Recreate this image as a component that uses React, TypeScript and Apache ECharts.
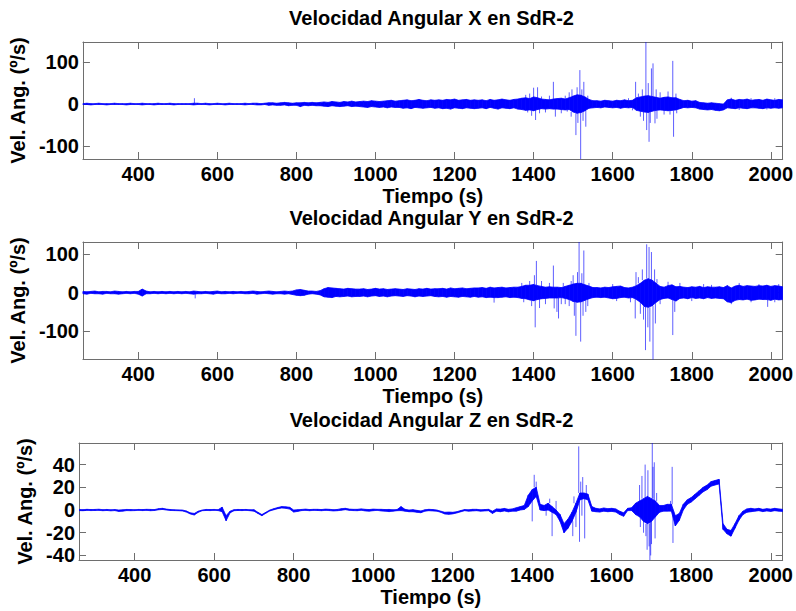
import React, { useEffect, useRef } from "react";
import * as echarts from "echarts";

// Sampling grid: noise envelope (upper / lower reading) per 10 s window
const T_START = 260;
const T_STEP = 10;
const T_MIN = 260;
const T_MAX = 2030;

const xTicks = [400, 600, 800, 1000, 1200, 1400, 1600, 1800, 2000];
const yTicksX = [-100, 0, 100];
const yTicksY = [-100, 0, 100];
const yTicksZ = [-40, -20, 0, 20, 40];

const titles = [
  "Velocidad Angular X en SdR-2",
  "Velocidad Angular Y en SdR-2",
  "Velocidad Angular Z en SdR-2",
];
const yName = "Vel. Ang. (º/s)";
const xName = "Tiempo (s)";

// ---- Angular velocity X (º/s): noise envelope ----
const xHi = [
  1, 2, 1, 1, 2, 1, 1, 1, 2, 1,
  1, 1, 2, 1, 1, 2, 1, 1, 1, 2,
  1, 1, 2, 1, 1, 1, 1, 1, 2, 2,
  1, 2, 1, 1, 2, 1, 1, 2, 1, 1,
  1, 2, 1, 2, 2, 1, 2, 3, 3, 2,
  3, 4, 3, 2, 3, 3, 4, 3, 4, 3,
  4, 5, 4, 6, 5, 4, 6, 5, 7, 5,
  6, 7, 6, 8, 7, 6, 7, 8, 9, 7,
  8, 9, 10, 8, 9, 11, 9, 8, 10, 9,
  10, 9, 11, 10, 12, 9, 10, 11, 9, 10,
  9, 10, 8, 11, 9, 10, 12, 10, 9, 11,
  12, 14, 15, 13, 17, 15, 12, 11, 10, 12,
  13, 14, 12, 15, 19, 22, 21, 17, 11, 8,
  8, 7, 9, 8, 7, 9, 8, 10, 8, 9,
  15, 17, 19, 20, 18, 16, 14, 16, 17, 15,
  15, 11, 8, 9, 7, 8, 4, 3, 2, 3,
  2, 1, 0, 10, 12, 9, 11, 10, 12, 9,
  10, 11, 9, 12, 10, 9, 11, 10,
];
const xLo = [
  -1, -1, -2, -1, -1, -1, -2, -1, -1, -1,
  -1, -2, -1, -1, -1, -2, -1, -1, -2, -1,
  -1, -1, -1, -2, -1, -1, -1, -1, -2, -1,
  -1, -1, -2, -1, -1, -1, -2, -1, -1, -1,
  -1, -2, -1, -1, -2, -2, -1, -3, -2, -3,
  -3, -2, -4, -3, -3, -6, -3, -4, -3, -4,
  -4, -5, -6, -4, -5, -6, -5, -4, -6, -5,
  -6, -7, -8, -6, -7, -8, -7, -9, -7, -8,
  -8, -10, -9, -11, -8, -9, -10, -9, -8, -10,
  -9, -11, -10, -12, -9, -10, -11, -9, -10, -11,
  -10, -9, -11, -8, -10, -12, -9, -10, -11, -9,
  -12, -13, -15, -14, -16, -13, -11, -12, -11, -12,
  -12, -13, -14, -13, -19, -22, -20, -16, -10, -9,
  -8, -9, -7, -8, -9, -8, -10, -8, -9, -8,
  -15, -17, -19, -20, -17, -15, -14, -15, -16, -15,
  -14, -11, -8, -9, -8, -9, -12, -13, -14, -13,
  -15, -16, -14, -9, -10, -11, -9, -10, -11, -9,
  -9, -10, -11, -9, -10, -9, -10, -9,
];
// isolated peaks: time (s) and value (º/s)
const xSpikeT = [
  542, 1380, 1385, 1390, 1395, 1400, 1405, 1410, 1415, 1420, 1430, 1440, 1450, 1455,
  1470, 1480, 1485, 1490, 1495, 1497, 1507, 1510, 1512, 1517, 1519, 1522, 1525, 1527, 1532, 1537,
  1640, 1650, 1658, 1665, 1670, 1675, 1678, 1684, 1686, 1690, 1692, 1695, 1698, 1702, 1707,
  1710, 1712, 1720, 1730, 1740, 1745, 1752, 1754, 1760, 1762, 1900, 1920, 1950, 1990, 2010,
];
const xSpikeV = [
  14, 22, -20, 25, -28, 39, -38, 40, -22, 18, -20, 20, 53, -30,
  -22, 20, -18, 28, -30, 35, -74, 40, -45, 81, -131, 35, -40, 53, -54, 20,
  14, -15, 53, 25, -30, 35, -40, 148, -62, 50, -90, -45, 85, 97, -46,
  35, -35, 28, -25, 30, -25, 103, -78, 25, -22, 15, -14, 14, -13, 14,
];

// ---- Angular velocity Y (º/s): noise envelope ----
const yHi = [
  3, 2, 3, 4, 2, 3, 3, 2, 4, 3,
  2, 3, 2, 3, 3, 9, 4, 2, 3, 2,
  3, 2, 3, 2, 3, 2, 3, 2, 4, 3,
  2, 3, 2, 3, 4, 2, 3, 2, 3, 2,
  3, 2, 3, 4, 3, 2, 3, 4, 3, 2,
  3, 4, 3, 4, 7, 8, 6, 4, 4, 3,
  5, 10, 13, 12, 11, 10, 9, 11, 10, 9,
  9, 10, 8, 9, 11, 9, 10, 8, 9, 10,
  9, 8, 10, 9, 8, 10, 9, 11, 9, 10,
  10, 11, 9, 12, 10, 11, 12, 10, 11, 12,
  12, 13, 11, 14, 12, 13, 14, 12, 13, 14,
  14, 16, 19, 19, 21, 18, 16, 14, 15, 14,
  14, 13, 16, 19, 22, 24, 24, 20, 17, 13,
  13, 12, 14, 13, 15, 16, 17, 13, 12, 14,
  18, 24, 32, 36, 32, 24, 16, 14, 18, 20,
  15, 16, 14, 13, 15, 14, 16, 13, 15, 14,
  14, 15, 13, 18, 12, 17, 19, 16, 18, 17,
  16, 18, 17, 19, 16, 18, 17, 15,
];
const yLo = [
  -3, -4, -2, -3, -3, -4, -2, -3, -3, -4,
  -3, -2, -3, -2, -4, -9, -3, -3, -2, -3,
  -2, -3, -2, -3, -2, -3, -2, -3, -4, -3,
  -3, -2, -3, -4, -2, -3, -3, -2, -3, -2,
  -2, -3, -3, -2, -4, -3, -2, -3, -4, -3,
  -3, -4, -3, -5, -7, -8, -7, -4, -3, -4,
  -6, -11, -12, -13, -10, -11, -10, -9, -11, -10,
  -10, -9, -11, -9, -8, -10, -9, -11, -9, -8,
  -9, -10, -8, -9, -11, -9, -10, -9, -8, -10,
  -11, -10, -12, -10, -11, -12, -10, -11, -12, -10,
  -12, -11, -13, -12, -13, -13, -12, -11, -13, -12,
  -13, -15, -16, -19, -21, -18, -16, -15, -14, -14,
  -14, -13, -15, -18, -23, -25, -24, -20, -16, -13,
  -12, -13, -12, -14, -16, -15, -13, -12, -14, -13,
  -18, -25, -36, -38, -34, -25, -18, -15, -14, -18,
  -22, -15, -14, -16, -13, -15, -14, -16, -13, -15,
  -14, -15, -16, -24, -26, -20, -18, -19, -17, -20,
  -19, -17, -18, -18, -20, -17, -19, -18,
];
const ySpikeT = [
  412, 544, 1300, 1370, 1375, 1390, 1395, 1402, 1404, 1407, 1415, 1420, 1430, 1440,
  1450, 1452, 1459, 1463, 1470, 1475, 1480, 1490, 1495, 1500, 1503, 1507, 1511, 1515, 1519,
  1522, 1525, 1527, 1532, 1537, 1540, 1600, 1610, 1645, 1657, 1659, 1665, 1670, 1675, 1678,
  1683, 1686, 1689, 1692, 1694, 1698, 1702, 1706, 1708, 1712, 1720, 1740, 1752, 1757,
  1770, 1800, 1830, 1850, 1900, 1920, 1950, 1970, 1992, 2010, 2020,
];
const ySpikeV = [
  10, -15, -26, 25, -25, 30, -35, 45, -90, 82, -40, 30, -30, 25,
  70, -41, -50, -67, -30, 25, -30, -35, 30, 45, -60, -112, 53, 131, -127,
  50, -60, 109, -50, -35, 25, 22, -22, -25, -67, 53, 40, -55, 60, -70,
  -149, 125, -90, 118, -127, 105, -176, 60, -80, 35, -30, 28, -110, -50,
  25, -22, 22, 20, -30, 25, -25, 22, -37, -25, 22,
];

// ---- Angular velocity Z (º/s): noise envelope ----
const zHi = [
  0.5, 0.3, 0.6, 0.4, 0.5, 0.7, 0.3, 0.5, 0.2, 0.4,
  0, 0.2, 0.5, 0.4, 0.3, 0.5, 0.4, 0.6, 0.5, 0.4,
  1.2, 1.5, 0.8, 0.4, 0.2, 0.1, 0, -0.8, -2.5, -3,
  -1, 0, 0.5, 0.4, 0.5, 0.3, 2.5, -5, -1, 0.3,
  0.5, 0.4, 0.5, 0.2, 0.3, -2, -4, -2, 0, 1.2,
  2.2, 3, 2.8, 2.4, 0, 0.3, 0.5, 0.8, 0.4, 0.6,
  0.6, 0.4, 0.8, 0.6, 0.3, 0.5, 1.2, 1.5, 0.8, 0.6,
  0.6, 1, 0.6, 0.4, 0.8, 0.6, 0.6, 0.4, 0.5, 0.2,
  0.4, 3, 0.6, 0, 0.3, -0.3, -0.8, 0.2, 0.6, 0.4,
  0, -1, -2, -1.8, -2, -1.5, -0.5, 0.4, 0.2, 0.6,
  0.6, 0.2, 0.4, 0.6, -1, 1, 0.8, 1.4, 0.6, 1,
  2, 3, 4, 13, 18, 20, 5, 4, 6, 3,
  0, -4, -12, -8, -2, 6, 15, 15, 14, 3,
  1.5, 1, 1.8, 1.2, 1.5, 1, -1, -2.5, 1.5, 2,
  6, 8, 10, 12, 10, 8, 4, 4, 5, 5,
  -5, -3, 5, 9, 11, 14, 17, 20, 22, 25,
  26, 27, -12, -17, -18, -12, -5, -1, 1, 1.5,
  1, 1.5, 0.6, 1.2, 0.8, 1.5, 1, 0.6,
];
const zLo = [
  -0.5, -0.6, -0.3, -0.5, -0.4, -0.3, -0.6, -0.4, -0.7, -0.5,
  -1.2, -1, -0.5, -0.6, -0.5, -0.3, -0.5, -0.3, -0.6, -0.4,
  0.2, 0.5, 0, -0.4, -0.5, -0.6, -0.8, -1.8, -3.5, -4.4,
  -2, -0.6, -0.4, -0.5, -0.3, -0.5, -1.5, -9.4, -2.5, -0.6,
  -0.4, -0.5, -0.3, -0.6, -1, -3, -5, -2.8, -0.8, 0.2,
  1.2, 1.8, 1.5, 0.8, -1.8, -1.2, -0.5, -0.3, -0.6, -0.3,
  -0.4, -0.6, -0.3, -0.5, -0.8, -0.6, -0.2, 0.3, -0.3, -0.5,
  -0.6, -0.2, -0.8, -1, -0.6, -0.3, -0.8, -1, -1.4, -1,
  -0.6, -0.5, -1, -1.5, -1.5, -2, -2.4, -1, -0.6, -0.8,
  -1, -2, -3.5, -3.8, -3.4, -2.6, -1.6, -0.6, -1, -0.8,
  -0.6, -1, -0.8, -0.6, -3, -1, -1.5, -0.8, -1.6, -1,
  -1, 0, 0.5, 3, 8, 12, 0, -0.5, 0, -2,
  -4, -10, -20, -16, -10, -2, 9, 10, 9, -1,
  -1.5, -1.8, -1, -1.5, -1.2, -1.8, -4, -5.5, -0.5, -0.5,
  -4, -6, -10, -12, -10, -6, -2, -1, -1, -1,
  -14, -9, 0, 5, 7, 10, 13, 16, 18, 21,
  22, 23, -17, -21, -23, -16, -9, -4, -2, -1.5,
  -1, -0.6, -1.4, -0.8, -1.2, -0.6, -1, -1.2,
];
const zSpikeT = [
  1395, 1400, 1405, 1410, 1435, 1444, 1450, 1460, 1502, 1505, 1510, 1517, 1519, 1522, 1525,
  1527, 1532, 1536, 1670, 1672, 1676, 1680, 1684, 1686, 1689, 1691, 1694, 1696, 1698, 1700,
  1702, 1704, 1707, 1709, 1713, 1748, 1752, 1754,
];
const zSpikeV = [
  18, -10, 31, 25, -5, 10, -23, 8, -23, 12, -15, 56, -28, 25, -5,
  29, -25, 22, 22, -15, 30, -20, 40, -23, -35, 35, -32, -44, -40, -30,
  59, 38, 42, -25, 15, 8, 38, -29,
];

const yRanges = [
  { min: -131, max: 148, ticks: yTicksX, nameGap: 49 },
  { min: -172, max: 131, ticks: yTicksY, nameGap: 49 },
  { min: -44, max: 59, ticks: yTicksZ, nameGap: 32 },
];

const FONT = '"Liberation Sans", Arial, Helvetica, sans-serif';
const BOX = "#6e6e6e";
const BLUE = "#0000ff";
const GRID_TOPS = [42, 242, 443];
const GRID_LEFT = 79;
const GRID_W = 705;
const GRID_H = 117;
const TITLE_Y = [18, 218, 420];

function windowTime(i: number) {
  return T_START + i * T_STEP;
}

// one item per pair of consecutive windows: [t0, hi0, lo0, t1, hi1, lo1]
function bandData(hi: number[], lo: number[]) {
  const out: number[][] = [];
  for (let i = 0; i < hi.length - 1; i++) {
    out.push([windowTime(i), hi[i], lo[i], windowTime(i + 1), hi[i + 1], lo[i + 1]]);
  }
  return out;
}

function spikeData(hi: number[], lo: number[], ts: number[], vs: number[]) {
  const out: any[] = [];
  for (let k = 0; k < ts.length; k++) {
    const idx = Math.max(0, Math.min(hi.length - 1, Math.round((ts[k] - T_START) / T_STEP)));
    const base = vs[k] > 0 ? hi[idx] : lo[idx];
    out.push([ts[k], base]);
    out.push([ts[k], vs[k]]);
    out.push([ts[k], null]);
  }
  return out;
}

export default function App() {
  const ref = useRef<HTMLDivElement>(null);
  useEffect(() => {
    if (!ref.current) return;
    const chart = echarts.init(ref.current, undefined, { renderer: "svg" });
    const textStyle = { color: "#000", fontSize: 20, fontWeight: "bold" as const, fontFamily: FONT };
    const fmt = (v: number) => String(v);
    const xAxes: any[] = [];
    const yAxes: any[] = [];
    const series: any[] = [];
    const sets = [
      { hi: xHi, lo: xLo, st: xSpikeT, sv: xSpikeV },
      { hi: yHi, lo: yLo, st: ySpikeT, sv: ySpikeV },
      { hi: zHi, lo: zLo, st: zSpikeT, sv: zSpikeV },
    ];
    for (let g = 0; g < 3; g++) {
      for (const pos of ["bottom", "top"]) {
        const main = pos === "bottom";
        xAxes.push({
          type: "value",
          gridIndex: g,
          position: pos,
          min: T_MIN,
          max: T_MAX,
          axisLine: { show: true, onZero: false, lineStyle: { color: BOX, width: 1 } },
          axisTick: { show: true, inside: true, length: 7, customValues: xTicks, lineStyle: { color: BOX, width: 1 } },
          axisLabel: { show: main, customValues: xTicks, margin: 5, formatter: fmt, ...textStyle },
          splitLine: { show: false },
          name: main ? xName : "",
          nameLocation: "middle",
          nameGap: 27,
          nameTextStyle: textStyle,
        });
      }
      const yr = yRanges[g];
      for (const pos of ["left", "right"]) {
        const main = pos === "left";
        yAxes.push({
          type: "value",
          gridIndex: g,
          position: pos,
          min: yr.min,
          max: yr.max,
          axisLine: { show: true, onZero: false, lineStyle: { color: BOX, width: 1 } },
          axisTick: { show: true, inside: true, length: 7, customValues: yr.ticks, lineStyle: { color: BOX, width: 1 } },
          axisLabel: { show: main, customValues: yr.ticks, margin: 4, formatter: fmt, ...textStyle },
          splitLine: { show: false },
          name: main ? yName : "",
          nameLocation: "middle",
          nameGap: yr.nameGap,
          nameTextStyle: textStyle,
        });
      }
      const s = sets[g];
      series.push({
        type: "custom",
        xAxisIndex: g * 2,
        yAxisIndex: g * 2,
        data: bandData(s.hi, s.lo),
        encode: { x: [0, 3], y: [1, 2, 4, 5] },
        clip: true,
        silent: true,
        renderItem: (_params: any, api: any) => {
          const p1 = api.coord([api.value(0), api.value(1)]);
          const p2 = api.coord([api.value(3), api.value(4)]);
          const p3 = api.coord([api.value(3), api.value(5)]);
          const p4 = api.coord([api.value(0), api.value(2)]);
          return {
            type: "polygon",
            shape: { points: [p1, p2, p3, p4] },
            style: { fill: BLUE, stroke: BLUE, lineWidth: 0.8 },
          };
        },
      });
      series.push({
        type: "line",
        xAxisIndex: g * 2,
        yAxisIndex: g * 2,
        showSymbol: false,
        symbol: "none",
        clip: true,
        silent: true,
        data: spikeData(s.hi, s.lo, s.st, s.sv),
        connectNulls: false,
        lineStyle: { color: BLUE, width: 0.8, opacity: 0.8 },
      });
    }
    chart.setOption({
      animation: false,
      backgroundColor: "#fff",
      grid: GRID_TOPS.map((top) => ({ left: GRID_LEFT, top, width: GRID_W, height: GRID_H, containLabel: false })),
      xAxis: xAxes,
      yAxis: yAxes,
      series,
      graphic: titles.map((t, i) => ({
        type: "text",
        x: GRID_LEFT + GRID_W / 2,
        y: TITLE_Y[i],
        style: {
          text: t,
          align: "center",
          verticalAlign: "middle",
          fill: "#000",
          font: `bold 20px ${FONT}`,
        },
      })),
    });
    return () => chart.dispose();
  }, []);
  return (
    <div
      ref={ref}
      style={{ position: "fixed", left: 0, top: 0, width: 796, height: 611, background: "#fff" }}
    />
  );
}
